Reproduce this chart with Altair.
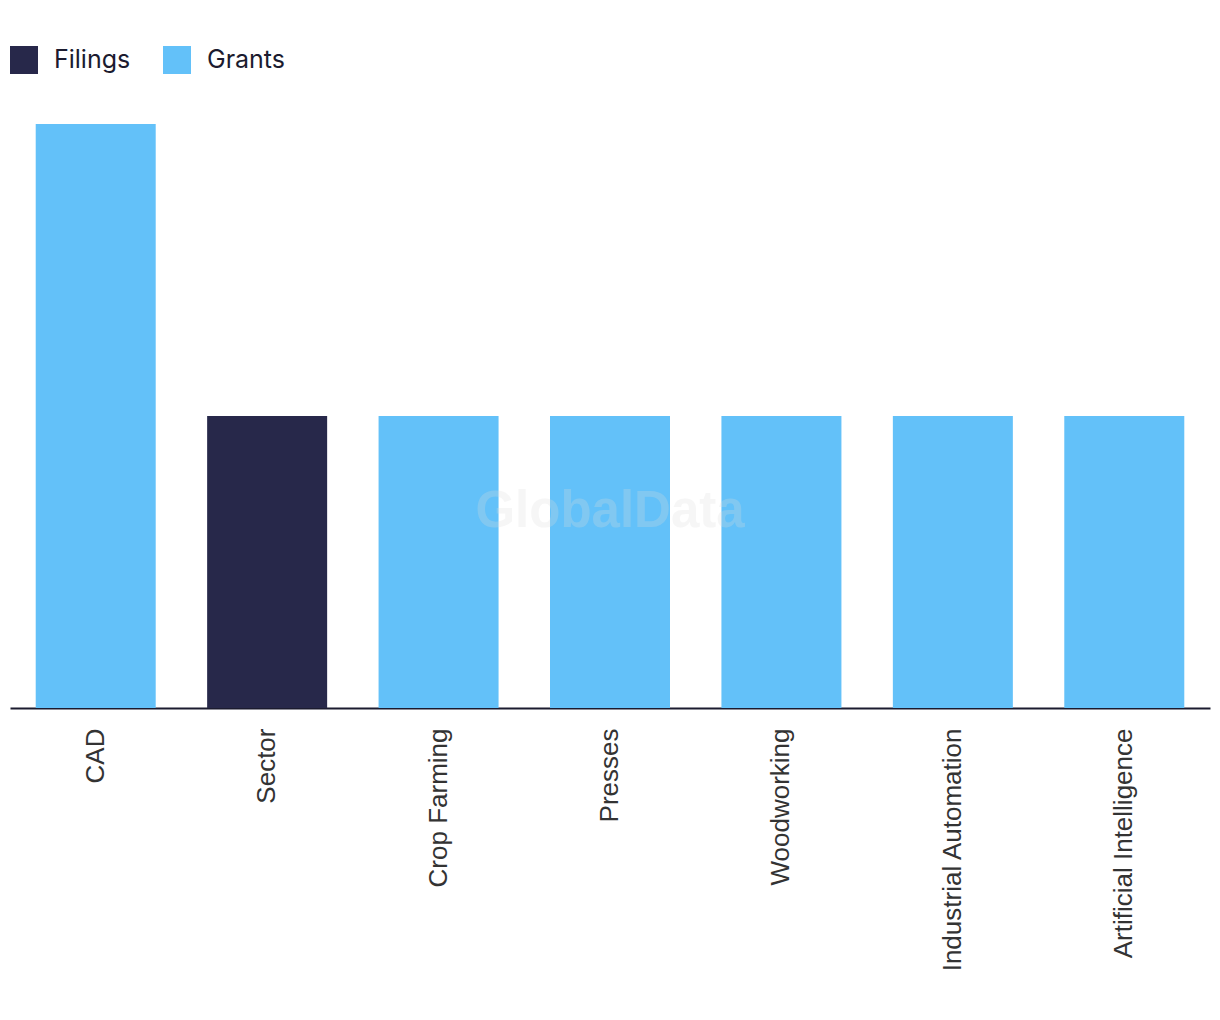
import altair as alt
import pandas as pd

categories = ["CAD", "Sector", "Crop Farming", "Presses", "Woodworking",
              "Industrial Automation", "Artificial Intelligence"]
values = [2, 1, 1, 1, 1, 1, 1]
series = ["Grants", "Filings", "Grants", "Grants", "Grants", "Grants", "Grants"]

df = pd.DataFrame({"category": categories, "value": values, "series": series})

bars = alt.Chart(df).mark_bar().encode(
    x=alt.X("category:N", sort=categories,
            scale=alt.Scale(paddingInner=0.3, paddingOuter=0.15),
            axis=alt.Axis(title=None, labelAngle=-90, labelFontSize=26,
                          labelFont="Liberation Sans", labelColor="#333333",
                          labelPadding=20, labelLimit=0, ticks=False,
                          domainColor="#1b1b2f", domainWidth=2, grid=False)),
    y=alt.Y("value:Q", scale=alt.Scale(domain=[0, 2], nice=False),
            axis=None),
    color=alt.Color("series:N",
                    scale=alt.Scale(domain=["Filings", "Grants"],
                                    range=["#27284a", "#63c1f9"]),
                    legend=alt.Legend(title=None, orient="none", legendX=0,
                                      legendY=-78, direction="horizontal",
                                      symbolType="square", symbolSize=784,
                                      symbolStrokeWidth=0, labelFontSize=25,
                                      labelFont="Inter", labelColor="#1b1b2f",
                                      labelOffset=16, columnPadding=32)),
)

watermark = alt.Chart(pd.DataFrame({"t": ["GlobalData"]})).mark_text(
    fontSize=51, fontWeight="bold", font="Liberation Sans",
    color="#dddddd", opacity=0.25, align="center", baseline="middle"
).encode(text="t:N", x=alt.value(600), y=alt.value(388))

chart = alt.layer(bars, watermark).properties(
    width=1200, height=584,
    autosize=alt.AutoSizeParams(type="none"),
    padding={"left": 2, "top": 116, "right": 2, "bottom": 300},
).configure_view(stroke=None)

chart.save("out.html", embed_options={"renderer": "svg", "actions": False})
